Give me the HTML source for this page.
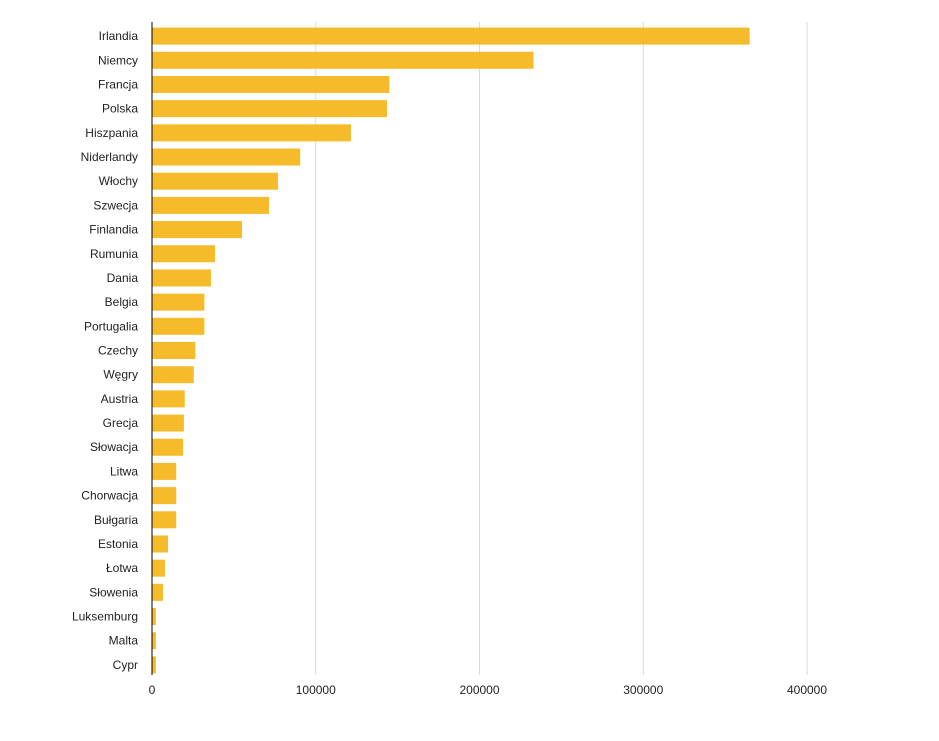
<!DOCTYPE html>
<html><head><meta charset="utf-8"><style>
html,body{margin:0;padding:0;background:#fff;}
svg{display:block;font-family:"Liberation Sans",Arial,sans-serif;}
</style></head><body>
<svg id="chart" width="939" height="741"></svg>
<script>
const categories=["Irlandia","Niemcy","Francja","Polska","Hiszpania","Niderlandy","Włochy","Szwecja","Finlandia","Rumunia","Dania","Belgia","Portugalia","Czechy","Węgry","Austria","Grecja","Słowacja","Litwa","Chorwacja","Bułgaria","Estonia","Łotwa","Słowenia","Luksemburg","Malta","Cypr"];
const values=[365000,233000,145000,143500,121500,90500,77000,71500,55000,38500,36000,32000,32000,26500,25500,20000,19500,19000,14800,14800,14800,9800,7900,6700,2400,2400,2400];
const ticks=[0,100000,200000,300000,400000];
const ns="http://www.w3.org/2000/svg";
const svg=document.getElementById('chart');
const L=152,R=807,T=24,B=677,maxV=400000;
const x=v=>L+(v/maxV)*(R-L);
const band=(B-T)/categories.length;
const y=i=>T+i*band;
function mk(tag,attrs){const e=document.createElementNS(ns,tag);for(const k in attrs)e.setAttribute(k,attrs[k]);svg.appendChild(e);return e;}
ticks.forEach(t=>{
  if(t>0){const g=mk('line',{x1:x(t),x2:x(t),y1:22,y2:675,stroke:'#d9d9d9','stroke-width':1});
  
  }
  const tl=mk('text',{x:x(t),y:694,'text-anchor':'middle','font-size':12,fill:'#222'});
  tl.textContent=t;
  
  
});
categories.forEach((c,i)=>{
  const bh=17;
  const r=mk('rect',{x:L,y:y(i)+(band-bh)/2,width:x(values[i])-L,height:bh,fill:'#f6bb2b'});
  
  
  const t=mk('text',{x:138,y:y(i)+band/2+4,'text-anchor':'end','font-size':12,fill:'#222'});
  t.textContent=c;
  
  
});
const ax=mk('line',{x1:L,x2:L,y1:22,y2:675,stroke:'#000','stroke-width':1});


</script>
</body></html>
